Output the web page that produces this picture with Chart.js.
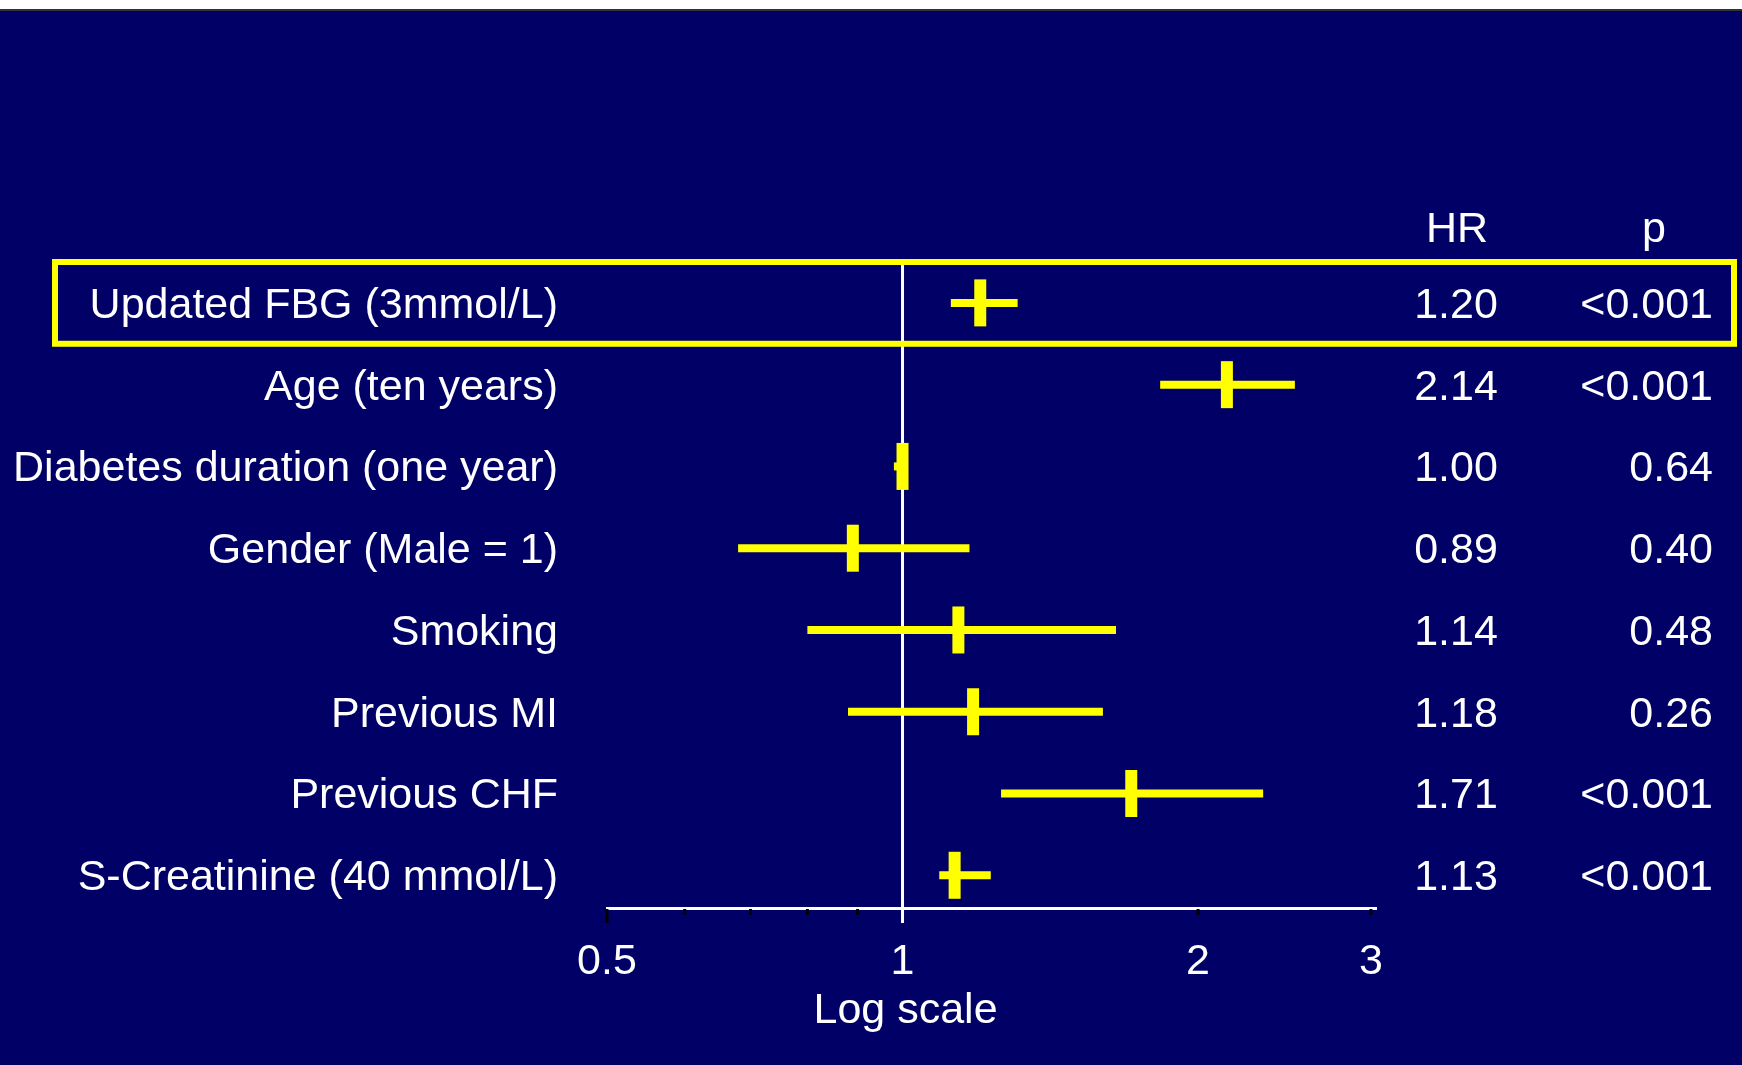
<!DOCTYPE html>
<html>
<head>
<meta charset="utf-8">
<script src="https://cdn.jsdelivr.net/npm/chart.js@4.4.1/dist/chart.umd.min.js"></script>
<style>
  html, body { margin: 0; padding: 0; background: #000066; overflow: hidden; }
  #wrap { width: 1742px; height: 1065px; }
</style>
</head>
<body>
<div id="wrap"><canvas id="forest" width="1742" height="1065"></canvas></div>
<script>
const labels = [
  "Updated FBG (3mmol/L)",
  "Age (ten years)",
  "Diabetes duration (one year)",
  "Gender (Male = 1)",
  "Smoking",
  "Previous MI",
  "Previous CHF",
  "S-Creatinine (40 mmol/L)"
];
const hr = [1.20, 2.14, 1.00, 0.89, 1.14, 1.18, 1.71, 1.13];
const ciLow = [1.12, 1.83, 0.98, 0.68, 0.80, 0.88, 1.26, 1.09];
const ciHigh = [1.31, 2.51, 1.01, 1.17, 1.65, 1.60, 2.33, 1.23];
const pValues = ["<0.001", "<0.001", "0.64", "0.40", "0.48", "0.26", "<0.001", "<0.001"];
const majorTicks = [0.5, 1, 2, 3];
const minorTicks = [0.6, 0.7, 0.8, 0.9];

const NAVY = "#000066";
const YELLOW = "#ffff00";
const FONT = "43px 'Liberation Sans', Arial, sans-serif";

Chart.defaults.font.family = "'Liberation Sans', Arial, sans-serif";
Chart.defaults.font.size = 43;

// background, reference line, ticks, highlight box and text columns
const forestDecor = {
  id: "forestDecor",
  beforeDraw(chart) {
    const { ctx, width, height } = chart;
    ctx.save();
    ctx.fillStyle = NAVY;
    ctx.fillRect(0, 0, width, height);
    ctx.fillStyle = "#ffffff";
    ctx.fillRect(0, 0, width, 9);
    ctx.fillStyle = "#333333";
    ctx.fillRect(0, 9, width, 2);
    ctx.restore();
  },
  beforeDatasetsDraw(chart) {
    const { ctx, chartArea, scales: { x } } = chart;
    ctx.save();
    const x1 = x.getPixelForValue(1);
    ctx.strokeStyle = "#ffffff";
    ctx.lineWidth = 3;
    ctx.beginPath();
    ctx.moveTo(x1, chartArea.top);
    ctx.lineTo(x1, chartArea.bottom + 15);
    ctx.stroke();

    ctx.strokeStyle = "#000000";
    ctx.lineWidth = 3;
    majorTicks.concat(minorTicks).forEach(v => {
      if (v === 1) return;
      const px = x.getPixelForValue(v);
      const len = v === 0.5 ? 15 : 7;
      ctx.beginPath();
      ctx.moveTo(px, chartArea.bottom + 1);
      ctx.lineTo(px, chartArea.bottom + len);
      ctx.stroke();
    });

    // axis title sits under the reference line
    ctx.font = FONT;
    ctx.fillStyle = "#ffffff";
    ctx.textAlign = "center";
    ctx.textBaseline = "middle";
    ctx.fillText("Log scale", x1 + 3, chartArea.bottom + 103);
    ctx.restore();
  },
  afterDatasetsDraw(chart) {
    const { ctx, scales: { y } } = chart;
    ctx.save();
    // box round the first row
    const top = y.getPixelForValue(-0.5);
    const bottom = y.getPixelForValue(0.5);
    ctx.strokeStyle = YELLOW;
    ctx.lineWidth = 6;
    ctx.strokeRect(55, top, 1679, bottom - top);

    ctx.font = FONT;
    ctx.fillStyle = "#ffffff";
    ctx.textBaseline = "alphabetic";
    ctx.textAlign = "center";
    ctx.fillText("HR", 1457, 242);
    ctx.fillText("p", 1654, 242);

    ctx.textBaseline = "middle";
    labels.forEach((lab, i) => {
      const py = y.getPixelForValue(i) + 3;
      ctx.textAlign = "right";
      ctx.fillText(lab, 558, py);
      ctx.textAlign = "center";
      ctx.fillText(hr[i].toFixed(2), 1456, py);
      ctx.textAlign = "right";
      ctx.fillText(pValues[i], 1713, py);
    });
    ctx.restore();
  }
};

const ciSets = labels.map((lab, i) => ({
  label: lab,
  data: [{ x: ciLow[i], y: i }, { x: ciHigh[i], y: i }],
  showLine: true,
  borderColor: YELLOW,
  borderWidth: 8,
  borderCapStyle: "butt",
  pointRadius: 0,
  pointHoverRadius: 0
}));

new Chart(document.getElementById("forest"), {
  type: "scatter",
  data: {
    datasets: [
      {
        label: "HR",
        data: hr.map((v, i) => ({ x: v, y: i })),
        pointStyle: "line",
        rotation: 90,
        pointRadius: 23.5,
        pointHoverRadius: 23.5,
        borderWidth: 12,
        borderColor: YELLOW,
        backgroundColor: YELLOW
      },
      ...ciSets
    ]
  },
  options: {
    responsive: false,
    animation: false,
    devicePixelRatio: 1,
    layout: { padding: { left: 607, right: 366, top: 262, bottom: 0 } },
    plugins: {
      legend: { display: false },
      tooltip: { enabled: false }
    },
    scales: {
      x: {
        type: "logarithmic",
        position: "bottom",
        min: 0.5,
        max: 3.036,
        grid: { display: true, color: "transparent", drawOnChartArea: false, drawTicks: false },
        border: { display: true, color: "#ffffff", width: 3 },
        afterBuildTicks: s => { s.ticks = majorTicks.map(v => ({ value: v })); },
        afterFit: s => { s.height = 157; },
        ticks: {
          color: "#ffffff",
          padding: 28,
          autoSkip: false,
          maxRotation: 0,
          callback: v => String(v)
        }
      },
      y: {
        type: "linear",
        min: -0.5,
        max: 7.4,
        reverse: true,
        display: false
      }
    }
  },
  plugins: [forestDecor]
});
</script>
</body>
</html>
